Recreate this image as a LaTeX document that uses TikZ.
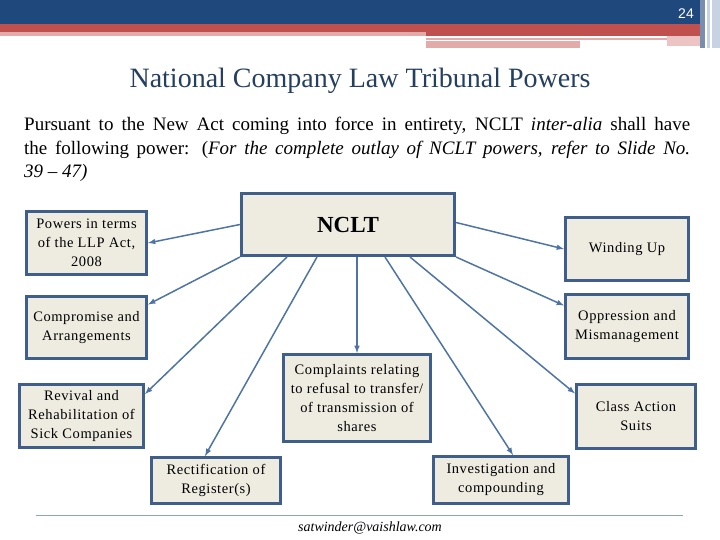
\documentclass[tikz,border=0pt]{standalone}
\usepackage{fontspec}
\setmainfont{Liberation Serif}
\newfontfamily\pagenofont{Liberation Sans}
\newfontfamily\boxfont[LetterSpace=4]{Liberation Serif}
\definecolor{barblue}{HTML}{1F497D}
\definecolor{barred}{HTML}{C0504D}
\definecolor{barpink}{HTML}{E2AAA9}
\definecolor{barpale}{HTML}{C7D3E3}
\definecolor{titleblue}{HTML}{243F60}
\definecolor{boxline}{HTML}{3F5E8A}
\definecolor{boxfill}{HTML}{EEECE1}
\definecolor{linkblue}{HTML}{4E74A6}
\definecolor{rulegray}{HTML}{8DA3C0}

\begin{document}
\begin{tikzpicture}[
    x=1pt, y=-1pt,
    hub/.style={draw=boxline, line width=3pt, fill=boxfill, minimum width=213pt, minimum height=62pt, font=\fontsize{23}{26}\selectfont\bfseries},
    power/.style={draw=boxline, line width=3pt, fill=boxfill, inner sep=2pt, align=center, font=\boxfont\fontsize{14.5}{19}\selectfont},
    link/.style={draw=linkblue, line width=1.5pt, -latex},
    para/.style={inner sep=0pt, text width=666pt, align=justify, font=\fontsize{19}{23.5}\selectfont}
]
\useasboundingbox (0,0) rectangle (720,540);

% slide header bars
\fill[barblue] (0,0) rectangle (700,24);
\fill[barred] (0,24) rectangle (700,32);
\fill[barpink] (0,32) rectangle (426,36);
\fill[barred] (426,32) rectangle (700,36);
\fill[barpink] (426,38) rectangle (667,40);
\fill[barpink!70] (667,36) rectangle (700,46);
\fill[barpink] (426,41) rectangle (580,48);
\fill[boxline!70] (700,0) rectangle (705,48);
\fill[barpale] (707,0) rectangle (710,48);
\fill[barpale] (712,0) rectangle (720,48);
\node[text=white, font=\pagenofont\fontsize{14}{16}\selectfont] (pageno) at (686,14) {24};

% title and intro
\node[text=titleblue, font=\fontsize{28}{31}\selectfont] (title) at (360,81) {National Company Law Tribunal Powers};
\node[para, anchor=north west] (intro) at (24,117) {Pursuant to the New Act coming into force in entirety, NCLT \textit{inter-alia} shall have\linebreak the following power: (\textit{For the complete outlay of NCLT powers, refer to Slide No.\linebreak 39 -- 47)}};

% boxes
\node[hub] (nclt) at (348,224.5) {NCLT};
\node[power, minimum width=120pt, minimum height=63pt] (llp) at (86.5,243) {Powers in terms\\of the LLP Act,\\2008};
\node[power, minimum width=123pt, minimum height=63pt] (wind) at (627,249) {Winding Up};
\node[power, minimum width=120pt, minimum height=62pt] (comp) at (86.5,327.5) {Compromise and\\Arrangements};
\node[power, minimum width=123pt, minimum height=64pt] (opp) at (627,326.5) {Oppression and\\Mismanagement};
\node[power, minimum width=147pt, minimum height=87pt] (compl) at (357,398) {Complaints relating\\to refusal to transfer/\\of transmission of\\shares};
\node[power, minimum width=124pt, minimum height=63pt] (revive) at (81.5,416) {Revival and\\Rehabilitation of\\Sick Companies};
\node[power, minimum width=119pt, minimum height=64pt] (classact) at (636,416.5) {Class Action\\Suits};
\node[power, minimum width=129pt, minimum height=46pt] (rect) at (216,480.5) {Rectification of\\Register(s)};
\node[power, minimum width=135pt, minimum height=47pt] (invest) at (501,480) {Investigation and\\compounding};

% links from the tribunal
\draw[link] (nclt.west) -- (llp.east);
\draw[link] (nclt.south west) -- ([yshift=23pt]comp.east);
\draw[link] ([xshift=-61pt]nclt.south) -- ([yshift=22pt]revive.east);
\draw[link] ([xshift=-31pt]nclt.south) -- ([xshift=-11pt]rect.north);
\draw[link] (compl.north |- nclt.south) -- (compl.north);
\draw[link] ([xshift=37pt]nclt.south) -- ([xshift=12pt]invest.north);
\draw[link] ([xshift=62pt]nclt.south) -- ([yshift=23pt]classact.west);
\draw[link] (nclt.south east) -- ([yshift=21pt]opp.west);
\draw[link] ([yshift=2pt]nclt.east) -- (wind.west);

% footer
\draw[rulegray, line width=1pt] (36,515) -- (683,515);
\node[font=\itshape\fontsize{14}{16}\selectfont] (mail) at (370,528) {satwinder@vaishlaw.com};
\end{tikzpicture}
\end{document}
